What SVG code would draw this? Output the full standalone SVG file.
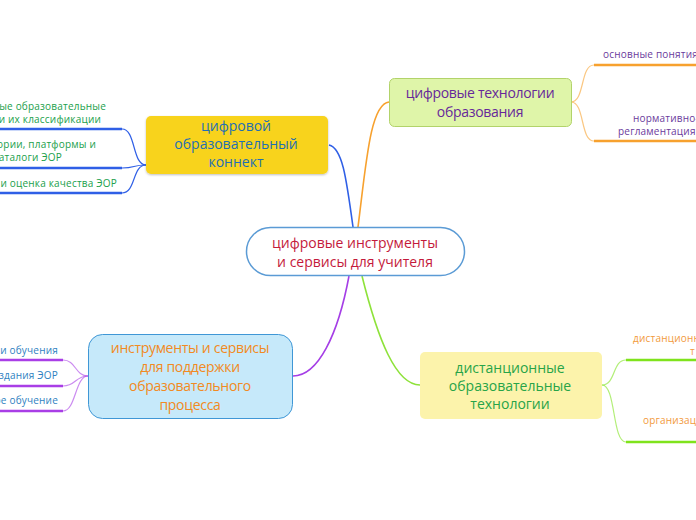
<svg xmlns="http://www.w3.org/2000/svg" width="696" height="520" viewBox="0 0 696 520">
<defs>
<filter id="sh" x="-10%" y="-10%" width="120%" height="130%">
<feDropShadow dx="0" dy="1" stdDeviation="1" flood-color="#000" flood-opacity="0.25"/>
</filter>
<style>
text{font-family:"Open Sans","Noto Sans","DejaVu Sans",sans-serif}
.nt{font-size:14px;text-anchor:middle}
.bt{font-size:10px;letter-spacing:0.2px}
.thin{fill:none;stroke-width:1.2}
.ul{fill:none;stroke-width:2.5}
.main{fill:none;stroke-width:1.6}
</style>
</defs>
<rect width="696" height="520" fill="#ffffff"/>
<g id="connectors">
<path class="main" stroke="#2f5fe6" d="M329,145 C342,148 346,175 353,227"/>
<path class="main" stroke="#f7a12e" d="M358,227 C366,165 370,104 389,102"/>
<path class="main" stroke="#a53ee6" d="M349,276 C338,335 318,376 293,376"/>
<path class="main" stroke="#8ee23a" d="M362,276 C378,340 396,385 420,385"/>
<g stroke="#2f5fe6">
<path class="thin" d="M146,165 C132,165 136,129 122,129"/>
<path class="thin" d="M146,165 C132,165 136,168 122,168"/>
<path class="thin" d="M146,165 C132,165 136,193 122,193"/>
<path class="ul" d="M122,129 H0 M122,168 H0 M122,193 H0"/>
</g>
<g stroke="#f7a12e">
<path class="thin" stroke-opacity="0.6" d="M571,102 C585,102 580,65 594,65"/>
<path class="thin" stroke-opacity="0.6" d="M571,102 C585,102 580,141 594,141"/>
<path class="ul" d="M594,65 H696 M594,141 H696"/>
</g>
<g stroke="#7fe31c">
<path class="thin" stroke-opacity="0.6" d="M602,385 C616,385 612,360 626,360"/>
<path class="thin" stroke-opacity="0.6" d="M602,385 C616,385 612,442 626,442"/>
<path class="ul" d="M626,360 H696 M626,442 H696"/>
</g>
<g stroke="#a93ee6">
<path class="thin" stroke-opacity="0.6" d="M88,376 C75,376 76,360 63,360"/>
<path class="thin" stroke-opacity="0.6" d="M88,376 C75,376 76,386 63,386"/>
<path class="thin" stroke-opacity="0.6" d="M88,376 C75,376 76,411 63,411"/>
<path class="ul" d="M63,360 H0 M63,386 H0 M63,411 H0"/>
</g>
</g>
<g id="center">
<rect x="246.5" y="227.5" width="218" height="48" rx="24" fill="#ffffff" stroke="#5b9bd5" stroke-width="1.5"/>
<text class="nt" x="355" y="248" fill="#c41a3c">цифровые инструменты</text>
<text class="nt" x="355" y="267" fill="#c41a3c">и сервисы для учителя</text>
</g>
<g id="node-konnekt">
<rect x="146" y="116" width="182" height="58" rx="5" fill="#f8d31e" filter="url(#sh)"/>
<text class="nt" x="236" y="131" fill="#1f6fb3">цифровой</text>
<text class="nt" x="236" y="149" fill="#1f6fb3">образовательный</text>
<text class="nt" x="236" y="167" fill="#1f6fb3">коннект</text>
</g>
<g id="node-tech">
<rect x="389.5" y="78.5" width="182" height="48" rx="5" fill="#dff5a9" stroke="#b2d36a" stroke-width="1"/>
<text class="nt" x="480" y="98" fill="#66289a" letter-spacing="-0.3">цифровые технологии</text>
<text class="nt" x="480" y="117" fill="#66289a" letter-spacing="-0.3">образования</text>
</g>
<g id="node-distance">
<rect x="420" y="352" width="182" height="67" rx="5" fill="#fcf3ab"/>
<text class="nt" x="510" y="373" fill="#27a448">дистанционные</text>
<text class="nt" x="510" y="391" fill="#27a448">образовательные</text>
<text class="nt" x="510" y="409" fill="#27a448">технологии</text>
</g>
<g id="node-tools">
<rect x="88.5" y="334.5" width="204" height="84" rx="14" fill="#c6e9fa" stroke="#3f97d6" stroke-width="1"/>
<text class="nt" x="190" y="353" fill="#f28a22" letter-spacing="-0.3">инструменты и сервисы</text>
<text class="nt" x="190" y="372" fill="#f28a22" letter-spacing="-0.3">для поддержки</text>
<text class="nt" x="190" y="391" fill="#f28a22" letter-spacing="-0.3">образовательного</text>
<text class="nt" x="190" y="410" fill="#f28a22" letter-spacing="-0.3">процесса</text>
</g>
<g id="sub-konnekt" fill="#21a04b" text-anchor="end">
<text class="bt" x="106" y="110">ные образовательные</text>
<text class="bt" x="101" y="123">и их классификации</text>
<text class="bt" x="96" y="148">ории, платформы и</text>
<text class="bt" x="62" y="161">каталоги ЭОР</text>
<text class="bt" x="117" y="187">и оценка качества ЭОР</text>
</g>
<g id="sub-tech" fill="#6a3a9c">
<text class="bt" x="603" y="58">основные понятия</text>
<text class="bt" x="633" y="122">нормативно-</text>
<text class="bt" x="618" y="135">регламентация</text>
</g>
<g id="sub-distance" fill="#f29a3b">
<text class="bt" x="633" y="342">дистанционн</text>
<text class="bt" x="690" y="355">т</text>
<text class="bt" x="643" y="424">организац</text>
</g>
<g id="sub-tools" fill="#2e7fc1" text-anchor="end">
<text class="bt" x="58" y="354">ли обучения</text>
<text class="bt" x="58" y="379">здания ЭОР</text>
<text class="bt" x="58" y="404">ре обучение</text>
</g>
</svg>
